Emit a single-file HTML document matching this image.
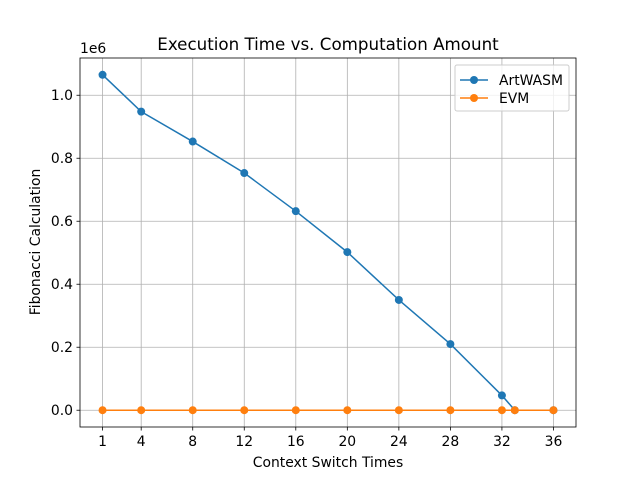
<!DOCTYPE html>
<html><head><meta charset="utf-8"><style>body{margin:0;background:#fff}svg{display:block;font-family:"DejaVu Sans","Liberation Sans",sans-serif}</style></head>
<body>
<svg id="c" width="640" height="480"></svg>
<script>
const xTicks=[1,4,8,12,16,20,24,28,32,36];
const yTicks=[0,0.2,0.4,0.6,0.8,1.0];
const xs=[1,4,8,12,16,20,24,28,32,33,36];
const artwasm=[1.065,0.948,0.853,0.753,0.632,0.502,0.350,0.210,0.047,0,0];
const evm=[0,0,0,0,0,0,0,0,0,0,0];
const L=80,R=576,T=58,B=427;
const x0=-0.75,x1=37.75,y0=-0.05325,y1=1.11825;
const X=v=>L+(v-x0)/(x1-x0)*(R-L);
const Y=v=>B-(v-y0)/(y1-y0)*(B-T);
const svg=document.getElementById('c');const NS='http://www.w3.org/2000/svg';
function mk(t,a,p,txt){const e=document.createElementNS(NS,t);for(const k in a)e.setAttribute(k,a[k]);if(txt!=null)e.textContent=txt;(p||svg).appendChild(e);return e;}
let e;const FS=13.9;
xTicks.forEach(t=>{const x=X(t);
e=mk('line',{x1:x,x2:x,y1:T,y2:B,stroke:'#b0b0b0','stroke-width':0.8});
mk('line',{x1:x,x2:x,y1:B,y2:B+3.5,stroke:'#000','stroke-width':0.8});
e=mk('text',{x:x,y:B+19,'font-size':FS,'text-anchor':'middle'},null,t);});
yTicks.forEach(t=>{const y=Y(t);
e=mk('line',{x1:L,x2:R,y1:y,y2:y,stroke:'#b0b0b0','stroke-width':0.8});
mk('line',{x1:L-3.5,x2:L,y1:y,y2:y,stroke:'#000','stroke-width':0.8});
e=mk('text',{x:L-7,y:y+5,'font-size':FS,'text-anchor':'end'},null,t.toFixed(1));});
function series(vals,col,name){
e=mk('polyline',{points:xs.map((v,i)=>X(v)+','+Y(vals[i])).join(' '),fill:'none',stroke:col,'stroke-width':1.5});
xs.forEach((v,i)=>{e=mk('circle',{cx:X(v),cy:Y(vals[i]),r:4,fill:col});});}
series(artwasm,'#1f77b4','artwasm');series(evm,'#ff7f0e','evm');
e=mk('rect',{x:L,y:T,width:R-L,height:B-T,fill:'none',stroke:'#000','stroke-width':0.8});
e=mk('text',{x:80,y:53,'font-size':FS},null,'1e6');
e=mk('text',{x:328,y:50,'font-size':16.7,'text-anchor':'middle'},null,'Execution Time vs. Computation Amount');
e=mk('text',{x:328,y:467,'font-size':FS,'text-anchor':'middle'},null,'Context Switch Times');
e=mk('text',{x:0,y:0,'font-size':FS,'text-anchor':'middle',transform:'translate(40,242) rotate(-90)'},null,'Fibonacci Calculation');
const g=mk('g',{});
mk('rect',{x:455,y:65,width:114,height:46,rx:2,fill:'#fff','fill-opacity':0.8,stroke:'#ccc'},g);
[['ArtWASM','#1f77b4',80],['EVM','#ff7f0e',98]].forEach(([n,c,y])=>{
mk('line',{x1:460,x2:488,y1:y,y2:y,stroke:c,'stroke-width':1.5},g);mk('circle',{cx:474,cy:y,r:4,fill:c},g);
e=mk('text',{x:499,y:y+5,'font-size':FS},g,n);});
</script>
</body></html>
